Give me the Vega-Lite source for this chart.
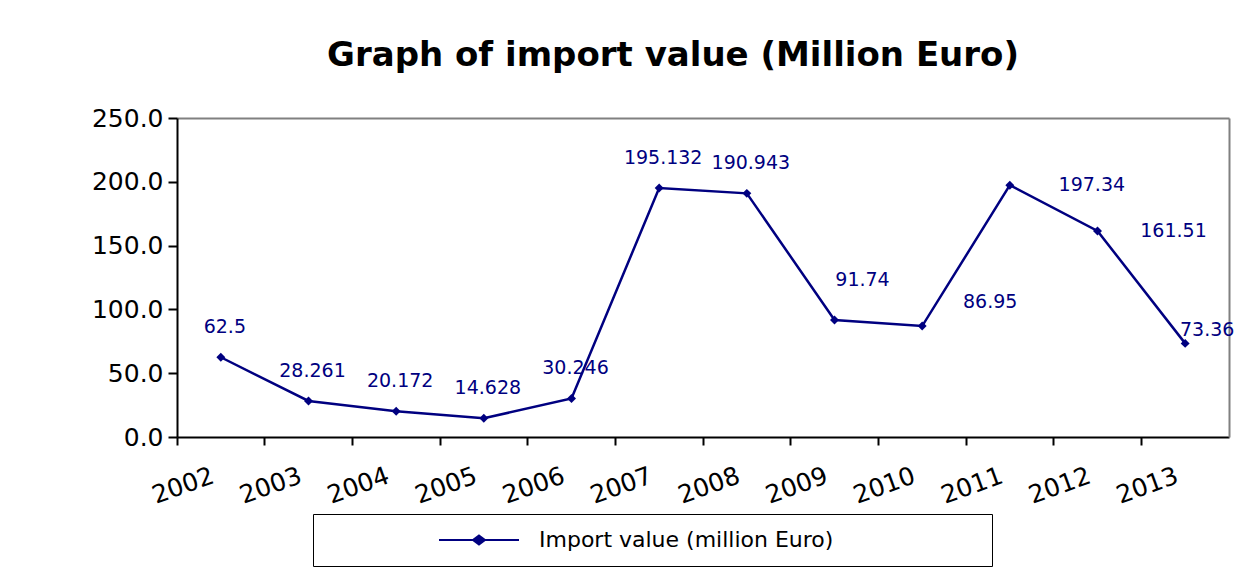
{
  "$schema": "https://vega.github.io/schema/vega-lite/v6.json",
  "width": 1052,
  "height": 319,
  "autosize": {"type": "none"},
  "padding": {"left": 177, "top": 118, "right": 6, "bottom": 139},
  "background": "white",
  "title": {
    "text": "Graph of import value (Million Euro)",
    "font": "DejaVu Sans",
    "fontSize": 34,
    "fontWeight": "bold",
    "color": "black",
    "anchor": "middle",
    "frame": "group",
    "dx": -30,
    "offset": 33
  },
  "data": {
    "values": [
      {"year": 2002, "value": 62.5},
      {"year": 2003, "value": 28.261},
      {"year": 2004, "value": 20.172},
      {"year": 2005, "value": 14.628},
      {"year": 2006, "value": 30.246},
      {"year": 2007, "value": 195.132},
      {"year": 2008, "value": 190.943},
      {"year": 2009, "value": 91.74},
      {"year": 2010, "value": 86.95},
      {"year": 2011, "value": 197.34},
      {"year": 2012, "value": 161.51},
      {"year": 2013, "value": 73.36}
    ]
  },
  "layer": [
    {
      "mark": {"type": "line", "strokeWidth": 2.5},
      "encoding": {
        "x": {
          "field": "year",
          "type": "ordinal",
          "scale": {"type": "band", "paddingInner": 0, "paddingOuter": 0},
          "axis": {
            "orient": "bottom",
            "title": null,
            "bandPosition": 0,
            "labelAngle": -20,
            "labelAlign": "right",
            "labelBaseline": "top",
            "labelPadding": 18,
            "labelOffset": -12,
            "labelFont": "DejaVu Sans",
            "labelFontSize": 25,
            "labelColor": "black",
            "domainColor": "black",
            "domainWidth": 2,
            "tickColor": "black",
            "tickWidth": 2,
            "tickSize": 8,
            "grid": false
          }
        },
        "y": {
          "field": "value",
          "type": "quantitative",
          "scale": {"domain": [0, 250], "nice": false},
          "axis": {
            "orient": "left",
            "title": null,
            "values": [0, 50, 100, 150, 200, 250],
            "format": ".1f",
            "labelFont": "DejaVu Sans",
            "labelFontSize": 25,
            "labelColor": "black",
            "labelPadding": 5,
            "domainColor": "black",
            "domainWidth": 2,
            "tickColor": "black",
            "tickWidth": 2,
            "tickSize": 9,
            "grid": false
          }
        },
        "color": {
          "datum": "Import value (million Euro)",
          "type": "nominal",
          "scale": {"domain": ["Import value (million Euro)", ""], "range": ["#000080", "transparent"]},
          "legend": {
            "title": null,
            "orient": "none",
            "direction": "horizontal",
            "columns": 2,
            "gridAlign": "none",
            "columnPadding": -68,
            "legendX": 136,
            "legendY": 396,
            "padding": 15,
            "strokeColor": "black",
            "fillColor": "white",
            "symbolType": "M10,0L18,0M14,-0.45L14.6,0L14,0.45L13.4,0Z",
            "symbolSize": 400,
            "symbolStrokeWidth": 2,
            "symbolOffset": 0,
            "labelOffset": 189,
            "labelFont": "DejaVu Sans",
            "labelFontSize": 22,
            "labelColor": "black",
            "labelLimit": 800,
            "encode": {
              "symbols": {"update": {"fill": {"scale": "color", "field": "value"}, "stroke": {"scale": "color", "field": "value"}}}
            }
          }
        }
      }
    },
    {
      "mark": {"type": "point", "shape": "diamond", "filled": true, "size": 80, "opacity": 1},
      "encoding": {
        "x": {
          "field": "year",
          "type": "ordinal",
          "axis": {"orient": "top", "title": null, "labels": false, "ticks": false, "domainColor": "#808080", "domainWidth": 2, "grid": false}
        },
        "y": {
          "field": "value",
          "type": "quantitative",
          "axis": {"orient": "right", "title": null, "labels": false, "ticks": false, "domainColor": "#808080", "domainWidth": 2, "grid": false}
        },
        "color": {"datum": "Import value (million Euro)", "type": "nominal"}
      }
    },
    {
      "mark": {
        "type": "text",
        "font": "DejaVu Sans",
        "fontSize": 19,
        "color": "#000080",
        "baseline": "middle",
        "align": "center",
        "dx": {"expr": "datum.year == 2009 ? 28 : datum.year == 2010 ? 68 : datum.year == 2011 ? 82 : datum.year == 2012 ? 76 : datum.year == 2013 ? 22 : 4"},
        "dy": {"expr": "datum.year == 2009 ? -40 : datum.year == 2010 ? -24 : datum.year == 2011 ? 0 : datum.year == 2012 ? 0 : datum.year == 2013 ? -13 : -30"}
      },
      "encoding": {
        "x": {"field": "year", "type": "ordinal", "axis": null},
        "y": {"field": "value", "type": "quantitative", "axis": null},
        "text": {"field": "value", "type": "nominal"}
      }
    }
  ],
  "resolve": {"axis": {"x": "independent", "y": "independent"}},
  "config": {"view": {"stroke": null}}
}
